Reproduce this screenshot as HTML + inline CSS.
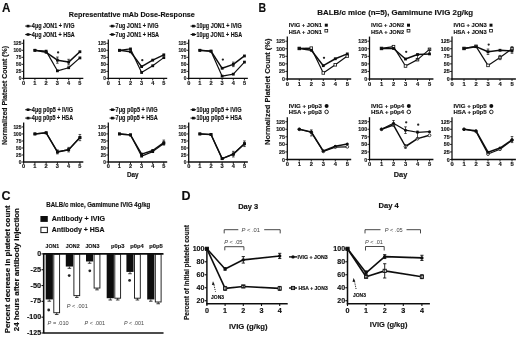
<!DOCTYPE html>
<html><head><meta charset="utf-8"><style>
html,body{margin:0;padding:0;background:#fff;}
svg{display:block;}
text{font-family:"Liberation Sans", sans-serif;}
text[font-weight=bold]{stroke:#111;stroke-width:0.15px;}
</style></head><body>
<svg width="520" height="338" viewBox="0 0 520 338" font-family='"Liberation Sans", sans-serif' fill="#111">
<defs><filter id="bl" filterUnits="userSpaceOnUse" x="0" y="0" width="520" height="338"><feGaussianBlur stdDeviation="0.3"/></filter></defs>
<rect width="520" height="338" fill="#fff"/>
<g filter="url(#bl)">
<text x="1.9" y="12" font-size="12.5" font-weight="bold" textLength="8.4" lengthAdjust="spacingAndGlyphs">A</text>
<text x="68.8" y="16.6" font-size="7.5" font-weight="bold" textLength="126" lengthAdjust="spacingAndGlyphs">Representative mAb Dose-Response</text>
<text x="7.4" y="145" font-size="7.1" font-weight="bold" textLength="99" lengthAdjust="spacingAndGlyphs" transform="rotate(-90 7.4 145)">Normalized Platelet Count (%)</text>
<line x1="23.65" y1="39.6" x2="23.65" y2="79" stroke="#111" stroke-width="1.3"/>
<line x1="23.05" y1="78.4" x2="83.3" y2="78.4" stroke="#111" stroke-width="1.3"/>
<line x1="21.65" y1="78.4" x2="23.65" y2="78.4" stroke="#111" stroke-width="0.9"/>
<text x="21.35" y="80.34" font-size="5.4" font-weight="bold" text-anchor="end" textLength="2.65" lengthAdjust="spacingAndGlyphs">0</text>
<line x1="21.65" y1="71.38" x2="23.65" y2="71.38" stroke="#111" stroke-width="0.9"/>
<text x="21.35" y="73.32" font-size="5.4" font-weight="bold" text-anchor="end" textLength="5.3" lengthAdjust="spacingAndGlyphs">25</text>
<line x1="21.65" y1="64.36" x2="23.65" y2="64.36" stroke="#111" stroke-width="0.9"/>
<text x="21.35" y="66.3" font-size="5.4" font-weight="bold" text-anchor="end" textLength="5.3" lengthAdjust="spacingAndGlyphs">50</text>
<line x1="21.65" y1="57.34" x2="23.65" y2="57.34" stroke="#111" stroke-width="0.9"/>
<text x="21.35" y="59.28" font-size="5.4" font-weight="bold" text-anchor="end" textLength="5.3" lengthAdjust="spacingAndGlyphs">75</text>
<line x1="21.65" y1="50.32" x2="23.65" y2="50.32" stroke="#111" stroke-width="0.9"/>
<text x="21.35" y="52.26" font-size="5.4" font-weight="bold" text-anchor="end" textLength="7.95" lengthAdjust="spacingAndGlyphs">100</text>
<line x1="21.65" y1="43.3" x2="23.65" y2="43.3" stroke="#111" stroke-width="0.9"/>
<text x="21.35" y="45.24" font-size="5.4" font-weight="bold" text-anchor="end" textLength="7.95" lengthAdjust="spacingAndGlyphs">125</text>
<line x1="23.65" y1="78.4" x2="23.65" y2="80.4" stroke="#111" stroke-width="0.9"/>
<text x="23.65" y="84.63" font-size="5.6" font-weight="bold" text-anchor="middle">0</text>
<line x1="34.9" y1="78.4" x2="34.9" y2="80.4" stroke="#111" stroke-width="0.9"/>
<text x="34.9" y="84.63" font-size="5.6" font-weight="bold" text-anchor="middle">1</text>
<line x1="46.15" y1="78.4" x2="46.15" y2="80.4" stroke="#111" stroke-width="0.9"/>
<text x="46.15" y="84.63" font-size="5.6" font-weight="bold" text-anchor="middle">2</text>
<line x1="57.4" y1="78.4" x2="57.4" y2="80.4" stroke="#111" stroke-width="0.9"/>
<text x="57.4" y="84.63" font-size="5.6" font-weight="bold" text-anchor="middle">3</text>
<line x1="68.65" y1="78.4" x2="68.65" y2="80.4" stroke="#111" stroke-width="0.9"/>
<text x="68.65" y="84.63" font-size="5.6" font-weight="bold" text-anchor="middle">4</text>
<line x1="79.9" y1="78.4" x2="79.9" y2="80.4" stroke="#111" stroke-width="0.9"/>
<text x="79.9" y="84.63" font-size="5.6" font-weight="bold" text-anchor="middle">5</text>
<polyline points="34.9,50.32 46.15,51.16 57.4,70.82 68.65,67.73 79.9,57.9" fill="none" stroke="#111" stroke-width="1.2" stroke-linejoin="round"/>
<rect x="33.5" y="48.92" width="2.8" height="2.8" fill="#111"/>
<rect x="44.75" y="49.76" width="2.8" height="2.8" fill="#111"/>
<rect x="56" y="69.42" width="2.8" height="2.8" fill="#111"/>
<rect x="67.25" y="66.33" width="2.8" height="2.8" fill="#111"/>
<rect x="78.5" y="56.5" width="2.8" height="2.8" fill="#111"/>
<polyline points="34.9,50.32 46.15,52.29 57.4,60.15 68.65,62.11 79.9,51.72" fill="none" stroke="#111" stroke-width="1.5" stroke-linejoin="round"/>
<rect x="33.5" y="48.92" width="2.8" height="2.8" fill="#111"/>
<rect x="44.75" y="50.89" width="2.8" height="2.8" fill="#111"/>
<rect x="56" y="58.75" width="2.8" height="2.8" fill="#111"/>
<rect x="67.25" y="60.71" width="2.8" height="2.8" fill="#111"/>
<rect x="78.5" y="50.32" width="2.8" height="2.8" fill="#111"/>
<circle cx="58.1" cy="52.4" r="1.15" fill="#222"/>
<line x1="57.4" y1="57.06" x2="57.4" y2="63.24" stroke="#111" stroke-width="0.7"/>
<line x1="56.1" y1="57.06" x2="58.7" y2="57.06" stroke="#111" stroke-width="0.7"/>
<line x1="56.1" y1="63.24" x2="58.7" y2="63.24" stroke="#111" stroke-width="0.7"/>
<line x1="68.65" y1="59.31" x2="68.65" y2="64.92" stroke="#111" stroke-width="0.7"/>
<line x1="67.35" y1="59.31" x2="69.95" y2="59.31" stroke="#111" stroke-width="0.7"/>
<line x1="67.35" y1="64.92" x2="69.95" y2="64.92" stroke="#111" stroke-width="0.7"/>
<line x1="25.25" y1="26.1" x2="31.55" y2="26.1" stroke="#111" stroke-width="1.1"/>
<rect x="26.65" y="24.8" width="2.8" height="2.6" fill="#111"/>
<text x="31.85" y="28.4" font-size="6.4" font-weight="bold" textLength="42.6" lengthAdjust="spacingAndGlyphs">4μg JON1 + IVIG</text>
<line x1="25.25" y1="34.5" x2="31.55" y2="34.5" stroke="#111" stroke-width="1.1"/>
<rect x="26.65" y="33.2" width="2.8" height="2.6" fill="#111"/>
<text x="31.85" y="36.8" font-size="6.4" font-weight="bold" textLength="42.8" lengthAdjust="spacingAndGlyphs">4μg JON1 + HSA</text>
<line x1="108.3" y1="39.6" x2="108.3" y2="79" stroke="#111" stroke-width="1.3"/>
<line x1="107.7" y1="78.4" x2="167.2" y2="78.4" stroke="#111" stroke-width="1.3"/>
<line x1="106.3" y1="78.4" x2="108.3" y2="78.4" stroke="#111" stroke-width="0.9"/>
<text x="106" y="80.34" font-size="5.4" font-weight="bold" text-anchor="end" textLength="2.65" lengthAdjust="spacingAndGlyphs">0</text>
<line x1="106.3" y1="71.38" x2="108.3" y2="71.38" stroke="#111" stroke-width="0.9"/>
<text x="106" y="73.32" font-size="5.4" font-weight="bold" text-anchor="end" textLength="5.3" lengthAdjust="spacingAndGlyphs">25</text>
<line x1="106.3" y1="64.36" x2="108.3" y2="64.36" stroke="#111" stroke-width="0.9"/>
<text x="106" y="66.3" font-size="5.4" font-weight="bold" text-anchor="end" textLength="5.3" lengthAdjust="spacingAndGlyphs">50</text>
<line x1="106.3" y1="57.34" x2="108.3" y2="57.34" stroke="#111" stroke-width="0.9"/>
<text x="106" y="59.28" font-size="5.4" font-weight="bold" text-anchor="end" textLength="5.3" lengthAdjust="spacingAndGlyphs">75</text>
<line x1="106.3" y1="50.32" x2="108.3" y2="50.32" stroke="#111" stroke-width="0.9"/>
<text x="106" y="52.26" font-size="5.4" font-weight="bold" text-anchor="end" textLength="7.95" lengthAdjust="spacingAndGlyphs">100</text>
<line x1="106.3" y1="43.3" x2="108.3" y2="43.3" stroke="#111" stroke-width="0.9"/>
<text x="106" y="45.24" font-size="5.4" font-weight="bold" text-anchor="end" textLength="7.95" lengthAdjust="spacingAndGlyphs">125</text>
<line x1="108.3" y1="78.4" x2="108.3" y2="80.4" stroke="#111" stroke-width="0.9"/>
<text x="108.3" y="84.63" font-size="5.6" font-weight="bold" text-anchor="middle">0</text>
<line x1="119.4" y1="78.4" x2="119.4" y2="80.4" stroke="#111" stroke-width="0.9"/>
<text x="119.4" y="84.63" font-size="5.6" font-weight="bold" text-anchor="middle">1</text>
<line x1="130.5" y1="78.4" x2="130.5" y2="80.4" stroke="#111" stroke-width="0.9"/>
<text x="130.5" y="84.63" font-size="5.6" font-weight="bold" text-anchor="middle">2</text>
<line x1="141.6" y1="78.4" x2="141.6" y2="80.4" stroke="#111" stroke-width="0.9"/>
<text x="141.6" y="84.63" font-size="5.6" font-weight="bold" text-anchor="middle">3</text>
<line x1="152.7" y1="78.4" x2="152.7" y2="80.4" stroke="#111" stroke-width="0.9"/>
<text x="152.7" y="84.63" font-size="5.6" font-weight="bold" text-anchor="middle">4</text>
<line x1="163.8" y1="78.4" x2="163.8" y2="80.4" stroke="#111" stroke-width="0.9"/>
<text x="163.8" y="84.63" font-size="5.6" font-weight="bold" text-anchor="middle">5</text>
<polyline points="119.4,50.32 130.5,48.92 141.6,72.5 152.7,65.76 163.8,57.62" fill="none" stroke="#111" stroke-width="1.2" stroke-linejoin="round"/>
<rect x="118" y="48.92" width="2.8" height="2.8" fill="#111"/>
<rect x="129.1" y="47.52" width="2.8" height="2.8" fill="#111"/>
<rect x="140.2" y="71.1" width="2.8" height="2.8" fill="#111"/>
<rect x="151.3" y="64.36" width="2.8" height="2.8" fill="#111"/>
<rect x="162.4" y="56.22" width="2.8" height="2.8" fill="#111"/>
<polyline points="119.4,50.32 130.5,51.72 141.6,66.61 152.7,60.15 163.8,54.81" fill="none" stroke="#111" stroke-width="1.5" stroke-linejoin="round"/>
<rect x="118" y="48.92" width="2.8" height="2.8" fill="#111"/>
<rect x="129.1" y="50.32" width="2.8" height="2.8" fill="#111"/>
<rect x="140.2" y="65.21" width="2.8" height="2.8" fill="#111"/>
<rect x="151.3" y="58.75" width="2.8" height="2.8" fill="#111"/>
<rect x="162.4" y="53.41" width="2.8" height="2.8" fill="#111"/>
<circle cx="142.3" cy="60.15" r="1.15" fill="#222"/>
<line x1="109.5" y1="26.1" x2="115.3" y2="26.1" stroke="#111" stroke-width="1.1"/>
<rect x="110.9" y="24.8" width="2.8" height="2.6" fill="#111"/>
<text x="115.6" y="28.4" font-size="6.4" font-weight="bold" textLength="42.8" lengthAdjust="spacingAndGlyphs">7ug JON1 + IVIG</text>
<line x1="109.5" y1="34.5" x2="115.3" y2="34.5" stroke="#111" stroke-width="1.1"/>
<rect x="110.9" y="33.2" width="2.8" height="2.6" fill="#111"/>
<text x="115.6" y="36.8" font-size="6.4" font-weight="bold" textLength="43.4" lengthAdjust="spacingAndGlyphs">7ug JON1 + HSA</text>
<line x1="188.7" y1="39.6" x2="188.7" y2="79" stroke="#111" stroke-width="1.3"/>
<line x1="188.1" y1="78.4" x2="247.85" y2="78.4" stroke="#111" stroke-width="1.3"/>
<line x1="186.7" y1="78.4" x2="188.7" y2="78.4" stroke="#111" stroke-width="0.9"/>
<text x="186.4" y="80.34" font-size="5.4" font-weight="bold" text-anchor="end" textLength="2.65" lengthAdjust="spacingAndGlyphs">0</text>
<line x1="186.7" y1="71.38" x2="188.7" y2="71.38" stroke="#111" stroke-width="0.9"/>
<text x="186.4" y="73.32" font-size="5.4" font-weight="bold" text-anchor="end" textLength="5.3" lengthAdjust="spacingAndGlyphs">25</text>
<line x1="186.7" y1="64.36" x2="188.7" y2="64.36" stroke="#111" stroke-width="0.9"/>
<text x="186.4" y="66.3" font-size="5.4" font-weight="bold" text-anchor="end" textLength="5.3" lengthAdjust="spacingAndGlyphs">50</text>
<line x1="186.7" y1="57.34" x2="188.7" y2="57.34" stroke="#111" stroke-width="0.9"/>
<text x="186.4" y="59.28" font-size="5.4" font-weight="bold" text-anchor="end" textLength="5.3" lengthAdjust="spacingAndGlyphs">75</text>
<line x1="186.7" y1="50.32" x2="188.7" y2="50.32" stroke="#111" stroke-width="0.9"/>
<text x="186.4" y="52.26" font-size="5.4" font-weight="bold" text-anchor="end" textLength="7.95" lengthAdjust="spacingAndGlyphs">100</text>
<line x1="186.7" y1="43.3" x2="188.7" y2="43.3" stroke="#111" stroke-width="0.9"/>
<text x="186.4" y="45.24" font-size="5.4" font-weight="bold" text-anchor="end" textLength="7.95" lengthAdjust="spacingAndGlyphs">125</text>
<line x1="188.7" y1="78.4" x2="188.7" y2="80.4" stroke="#111" stroke-width="0.9"/>
<text x="188.7" y="84.63" font-size="5.6" font-weight="bold" text-anchor="middle">0</text>
<line x1="199.85" y1="78.4" x2="199.85" y2="80.4" stroke="#111" stroke-width="0.9"/>
<text x="199.85" y="84.63" font-size="5.6" font-weight="bold" text-anchor="middle">1</text>
<line x1="211" y1="78.4" x2="211" y2="80.4" stroke="#111" stroke-width="0.9"/>
<text x="211" y="84.63" font-size="5.6" font-weight="bold" text-anchor="middle">2</text>
<line x1="222.15" y1="78.4" x2="222.15" y2="80.4" stroke="#111" stroke-width="0.9"/>
<text x="222.15" y="84.63" font-size="5.6" font-weight="bold" text-anchor="middle">3</text>
<line x1="233.3" y1="78.4" x2="233.3" y2="80.4" stroke="#111" stroke-width="0.9"/>
<text x="233.3" y="84.63" font-size="5.6" font-weight="bold" text-anchor="middle">4</text>
<line x1="244.45" y1="78.4" x2="244.45" y2="80.4" stroke="#111" stroke-width="0.9"/>
<text x="244.45" y="84.63" font-size="5.6" font-weight="bold" text-anchor="middle">5</text>
<polyline points="199.85,50.32 211,51.16 222.15,76.15 233.3,74.19 244.45,62.11" fill="none" stroke="#111" stroke-width="1.2" stroke-linejoin="round"/>
<rect x="198.45" y="48.92" width="2.8" height="2.8" fill="#111"/>
<rect x="209.6" y="49.76" width="2.8" height="2.8" fill="#111"/>
<rect x="220.75" y="74.75" width="2.8" height="2.8" fill="#111"/>
<rect x="231.9" y="72.79" width="2.8" height="2.8" fill="#111"/>
<rect x="243.05" y="60.71" width="2.8" height="2.8" fill="#111"/>
<polyline points="199.85,50.32 211,51.16 222.15,68.29 233.3,64.36 244.45,55.94" fill="none" stroke="#111" stroke-width="1.5" stroke-linejoin="round"/>
<rect x="198.45" y="48.92" width="2.8" height="2.8" fill="#111"/>
<rect x="209.6" y="49.76" width="2.8" height="2.8" fill="#111"/>
<rect x="220.75" y="66.89" width="2.8" height="2.8" fill="#111"/>
<rect x="231.9" y="62.96" width="2.8" height="2.8" fill="#111"/>
<rect x="243.05" y="54.54" width="2.8" height="2.8" fill="#111"/>
<circle cx="222.85" cy="59.59" r="1.15" fill="#222"/>
<line x1="233.3" y1="62.11" x2="233.3" y2="66.61" stroke="#111" stroke-width="0.7"/>
<line x1="232" y1="62.11" x2="234.6" y2="62.11" stroke="#111" stroke-width="0.7"/>
<line x1="232" y1="66.61" x2="234.6" y2="66.61" stroke="#111" stroke-width="0.7"/>
<line x1="190.6" y1="26.1" x2="196.2" y2="26.1" stroke="#111" stroke-width="1.1"/>
<rect x="192" y="24.8" width="2.8" height="2.6" fill="#111"/>
<text x="196.5" y="28.4" font-size="6.4" font-weight="bold" textLength="45.3" lengthAdjust="spacingAndGlyphs">10μg JON1 + IVIG</text>
<line x1="190.6" y1="34.5" x2="196.2" y2="34.5" stroke="#111" stroke-width="1.1"/>
<rect x="192" y="33.2" width="2.8" height="2.6" fill="#111"/>
<text x="196.5" y="36.8" font-size="6.4" font-weight="bold" textLength="45.6" lengthAdjust="spacingAndGlyphs">10μg JON1 + HSA</text>
<line x1="23.65" y1="122.4" x2="23.65" y2="162.6" stroke="#111" stroke-width="1.3"/>
<line x1="23.05" y1="162" x2="83.3" y2="162" stroke="#111" stroke-width="1.3"/>
<line x1="21.65" y1="162" x2="23.65" y2="162" stroke="#111" stroke-width="0.9"/>
<text x="21.35" y="163.94" font-size="5.4" font-weight="bold" text-anchor="end" textLength="2.65" lengthAdjust="spacingAndGlyphs">0</text>
<line x1="21.65" y1="154.98" x2="23.65" y2="154.98" stroke="#111" stroke-width="0.9"/>
<text x="21.35" y="156.92" font-size="5.4" font-weight="bold" text-anchor="end" textLength="5.3" lengthAdjust="spacingAndGlyphs">25</text>
<line x1="21.65" y1="147.96" x2="23.65" y2="147.96" stroke="#111" stroke-width="0.9"/>
<text x="21.35" y="149.9" font-size="5.4" font-weight="bold" text-anchor="end" textLength="5.3" lengthAdjust="spacingAndGlyphs">50</text>
<line x1="21.65" y1="140.94" x2="23.65" y2="140.94" stroke="#111" stroke-width="0.9"/>
<text x="21.35" y="142.88" font-size="5.4" font-weight="bold" text-anchor="end" textLength="5.3" lengthAdjust="spacingAndGlyphs">75</text>
<line x1="21.65" y1="133.92" x2="23.65" y2="133.92" stroke="#111" stroke-width="0.9"/>
<text x="21.35" y="135.86" font-size="5.4" font-weight="bold" text-anchor="end" textLength="7.95" lengthAdjust="spacingAndGlyphs">100</text>
<line x1="21.65" y1="126.9" x2="23.65" y2="126.9" stroke="#111" stroke-width="0.9"/>
<text x="21.35" y="128.84" font-size="5.4" font-weight="bold" text-anchor="end" textLength="7.95" lengthAdjust="spacingAndGlyphs">125</text>
<line x1="23.65" y1="162" x2="23.65" y2="164" stroke="#111" stroke-width="0.9"/>
<text x="23.65" y="168.23" font-size="5.6" font-weight="bold" text-anchor="middle">0</text>
<line x1="34.9" y1="162" x2="34.9" y2="164" stroke="#111" stroke-width="0.9"/>
<text x="34.9" y="168.23" font-size="5.6" font-weight="bold" text-anchor="middle">1</text>
<line x1="46.15" y1="162" x2="46.15" y2="164" stroke="#111" stroke-width="0.9"/>
<text x="46.15" y="168.23" font-size="5.6" font-weight="bold" text-anchor="middle">2</text>
<line x1="57.4" y1="162" x2="57.4" y2="164" stroke="#111" stroke-width="0.9"/>
<text x="57.4" y="168.23" font-size="5.6" font-weight="bold" text-anchor="middle">3</text>
<line x1="68.65" y1="162" x2="68.65" y2="164" stroke="#111" stroke-width="0.9"/>
<text x="68.65" y="168.23" font-size="5.6" font-weight="bold" text-anchor="middle">4</text>
<line x1="79.9" y1="162" x2="79.9" y2="164" stroke="#111" stroke-width="0.9"/>
<text x="79.9" y="168.23" font-size="5.6" font-weight="bold" text-anchor="middle">5</text>
<polyline points="34.9,133.92 46.15,132.8 57.4,151.89 68.65,149.64 79.9,137.57" fill="none" stroke="#111" stroke-width="1.2" stroke-linejoin="round"/>
<rect x="33.5" y="132.52" width="2.8" height="2.8" fill="#111"/>
<rect x="44.75" y="131.4" width="2.8" height="2.8" fill="#111"/>
<rect x="56" y="150.49" width="2.8" height="2.8" fill="#111"/>
<rect x="67.25" y="148.24" width="2.8" height="2.8" fill="#111"/>
<rect x="78.5" y="136.17" width="2.8" height="2.8" fill="#111"/>
<polyline points="34.9,133.92 46.15,132.8 57.4,151.89 68.65,149.64 79.9,137.57" fill="none" stroke="#111" stroke-width="1.5" stroke-linejoin="round"/>
<rect x="33.5" y="132.52" width="2.8" height="2.8" fill="#111"/>
<rect x="44.75" y="131.4" width="2.8" height="2.8" fill="#111"/>
<rect x="56" y="150.49" width="2.8" height="2.8" fill="#111"/>
<rect x="67.25" y="148.24" width="2.8" height="2.8" fill="#111"/>
<rect x="78.5" y="136.17" width="2.8" height="2.8" fill="#111"/>
<line x1="57.4" y1="149.93" x2="57.4" y2="153.86" stroke="#111" stroke-width="0.7"/>
<line x1="56.1" y1="149.93" x2="58.7" y2="149.93" stroke="#111" stroke-width="0.7"/>
<line x1="56.1" y1="153.86" x2="58.7" y2="153.86" stroke="#111" stroke-width="0.7"/>
<line x1="68.65" y1="147.4" x2="68.65" y2="151.89" stroke="#111" stroke-width="0.7"/>
<line x1="67.35" y1="147.4" x2="69.95" y2="147.4" stroke="#111" stroke-width="0.7"/>
<line x1="67.35" y1="151.89" x2="69.95" y2="151.89" stroke="#111" stroke-width="0.7"/>
<line x1="79.9" y1="134.48" x2="79.9" y2="140.66" stroke="#111" stroke-width="0.7"/>
<line x1="78.6" y1="134.48" x2="81.2" y2="134.48" stroke="#111" stroke-width="0.7"/>
<line x1="78.6" y1="140.66" x2="81.2" y2="140.66" stroke="#111" stroke-width="0.7"/>
<line x1="25.25" y1="109.7" x2="31.55" y2="109.7" stroke="#111" stroke-width="1.1"/>
<rect x="26.65" y="108.4" width="2.8" height="2.6" fill="#111"/>
<text x="31.85" y="112" font-size="6.4" font-weight="bold" textLength="41.2" lengthAdjust="spacingAndGlyphs">4μg p0p5 + IVIG</text>
<line x1="25.25" y1="118.1" x2="31.55" y2="118.1" stroke="#111" stroke-width="1.1"/>
<rect x="26.65" y="116.8" width="2.8" height="2.6" fill="#111"/>
<text x="31.85" y="120.4" font-size="6.4" font-weight="bold" textLength="41.2" lengthAdjust="spacingAndGlyphs">4μg p0p5 + HSA</text>
<line x1="108.3" y1="122.4" x2="108.3" y2="162.6" stroke="#111" stroke-width="1.3"/>
<line x1="107.7" y1="162" x2="167.2" y2="162" stroke="#111" stroke-width="1.3"/>
<line x1="106.3" y1="162" x2="108.3" y2="162" stroke="#111" stroke-width="0.9"/>
<text x="106" y="163.94" font-size="5.4" font-weight="bold" text-anchor="end" textLength="2.65" lengthAdjust="spacingAndGlyphs">0</text>
<line x1="106.3" y1="154.98" x2="108.3" y2="154.98" stroke="#111" stroke-width="0.9"/>
<text x="106" y="156.92" font-size="5.4" font-weight="bold" text-anchor="end" textLength="5.3" lengthAdjust="spacingAndGlyphs">25</text>
<line x1="106.3" y1="147.96" x2="108.3" y2="147.96" stroke="#111" stroke-width="0.9"/>
<text x="106" y="149.9" font-size="5.4" font-weight="bold" text-anchor="end" textLength="5.3" lengthAdjust="spacingAndGlyphs">50</text>
<line x1="106.3" y1="140.94" x2="108.3" y2="140.94" stroke="#111" stroke-width="0.9"/>
<text x="106" y="142.88" font-size="5.4" font-weight="bold" text-anchor="end" textLength="5.3" lengthAdjust="spacingAndGlyphs">75</text>
<line x1="106.3" y1="133.92" x2="108.3" y2="133.92" stroke="#111" stroke-width="0.9"/>
<text x="106" y="135.86" font-size="5.4" font-weight="bold" text-anchor="end" textLength="7.95" lengthAdjust="spacingAndGlyphs">100</text>
<line x1="106.3" y1="126.9" x2="108.3" y2="126.9" stroke="#111" stroke-width="0.9"/>
<text x="106" y="128.84" font-size="5.4" font-weight="bold" text-anchor="end" textLength="7.95" lengthAdjust="spacingAndGlyphs">125</text>
<line x1="108.3" y1="162" x2="108.3" y2="164" stroke="#111" stroke-width="0.9"/>
<text x="108.3" y="168.23" font-size="5.6" font-weight="bold" text-anchor="middle">0</text>
<line x1="119.4" y1="162" x2="119.4" y2="164" stroke="#111" stroke-width="0.9"/>
<text x="119.4" y="168.23" font-size="5.6" font-weight="bold" text-anchor="middle">1</text>
<line x1="130.5" y1="162" x2="130.5" y2="164" stroke="#111" stroke-width="0.9"/>
<text x="130.5" y="168.23" font-size="5.6" font-weight="bold" text-anchor="middle">2</text>
<line x1="141.6" y1="162" x2="141.6" y2="164" stroke="#111" stroke-width="0.9"/>
<text x="141.6" y="168.23" font-size="5.6" font-weight="bold" text-anchor="middle">3</text>
<line x1="152.7" y1="162" x2="152.7" y2="164" stroke="#111" stroke-width="0.9"/>
<text x="152.7" y="168.23" font-size="5.6" font-weight="bold" text-anchor="middle">4</text>
<line x1="163.8" y1="162" x2="163.8" y2="164" stroke="#111" stroke-width="0.9"/>
<text x="163.8" y="168.23" font-size="5.6" font-weight="bold" text-anchor="middle">5</text>
<polyline points="119.4,133.92 130.5,134.76 141.6,156.1 152.7,151.61 163.8,143.47" fill="none" stroke="#111" stroke-width="1.2" stroke-linejoin="round"/>
<rect x="118" y="132.52" width="2.8" height="2.8" fill="#111"/>
<rect x="129.1" y="133.36" width="2.8" height="2.8" fill="#111"/>
<rect x="140.2" y="154.7" width="2.8" height="2.8" fill="#111"/>
<rect x="151.3" y="150.21" width="2.8" height="2.8" fill="#111"/>
<rect x="162.4" y="142.07" width="2.8" height="2.8" fill="#111"/>
<polyline points="119.4,133.92 130.5,135.04 141.6,154.14 152.7,150.49 163.8,142.62" fill="none" stroke="#111" stroke-width="1.5" stroke-linejoin="round"/>
<rect x="118" y="132.52" width="2.8" height="2.8" fill="#111"/>
<rect x="129.1" y="133.64" width="2.8" height="2.8" fill="#111"/>
<rect x="140.2" y="152.74" width="2.8" height="2.8" fill="#111"/>
<rect x="151.3" y="149.09" width="2.8" height="2.8" fill="#111"/>
<rect x="162.4" y="141.22" width="2.8" height="2.8" fill="#111"/>
<line x1="163.8" y1="140.1" x2="163.8" y2="145.15" stroke="#111" stroke-width="0.7"/>
<line x1="162.5" y1="140.1" x2="165.1" y2="140.1" stroke="#111" stroke-width="0.7"/>
<line x1="162.5" y1="145.15" x2="165.1" y2="145.15" stroke="#111" stroke-width="0.7"/>
<line x1="109.6" y1="109.7" x2="115.3" y2="109.7" stroke="#111" stroke-width="1.1"/>
<rect x="111" y="108.4" width="2.8" height="2.6" fill="#111"/>
<text x="115.6" y="112" font-size="6.4" font-weight="bold" textLength="41.9" lengthAdjust="spacingAndGlyphs">7μg p0p5 + IVIG</text>
<line x1="109.6" y1="118.1" x2="115.3" y2="118.1" stroke="#111" stroke-width="1.1"/>
<rect x="111" y="116.8" width="2.8" height="2.6" fill="#111"/>
<text x="115.6" y="120.4" font-size="6.4" font-weight="bold" textLength="42.2" lengthAdjust="spacingAndGlyphs">7μg p0p5 + HSA</text>
<line x1="188.7" y1="122.4" x2="188.7" y2="162.6" stroke="#111" stroke-width="1.3"/>
<line x1="188.1" y1="162" x2="247.85" y2="162" stroke="#111" stroke-width="1.3"/>
<line x1="186.7" y1="162" x2="188.7" y2="162" stroke="#111" stroke-width="0.9"/>
<text x="186.4" y="163.94" font-size="5.4" font-weight="bold" text-anchor="end" textLength="2.65" lengthAdjust="spacingAndGlyphs">0</text>
<line x1="186.7" y1="154.98" x2="188.7" y2="154.98" stroke="#111" stroke-width="0.9"/>
<text x="186.4" y="156.92" font-size="5.4" font-weight="bold" text-anchor="end" textLength="5.3" lengthAdjust="spacingAndGlyphs">25</text>
<line x1="186.7" y1="147.96" x2="188.7" y2="147.96" stroke="#111" stroke-width="0.9"/>
<text x="186.4" y="149.9" font-size="5.4" font-weight="bold" text-anchor="end" textLength="5.3" lengthAdjust="spacingAndGlyphs">50</text>
<line x1="186.7" y1="140.94" x2="188.7" y2="140.94" stroke="#111" stroke-width="0.9"/>
<text x="186.4" y="142.88" font-size="5.4" font-weight="bold" text-anchor="end" textLength="5.3" lengthAdjust="spacingAndGlyphs">75</text>
<line x1="186.7" y1="133.92" x2="188.7" y2="133.92" stroke="#111" stroke-width="0.9"/>
<text x="186.4" y="135.86" font-size="5.4" font-weight="bold" text-anchor="end" textLength="7.95" lengthAdjust="spacingAndGlyphs">100</text>
<line x1="186.7" y1="126.9" x2="188.7" y2="126.9" stroke="#111" stroke-width="0.9"/>
<text x="186.4" y="128.84" font-size="5.4" font-weight="bold" text-anchor="end" textLength="7.95" lengthAdjust="spacingAndGlyphs">125</text>
<line x1="188.7" y1="162" x2="188.7" y2="164" stroke="#111" stroke-width="0.9"/>
<text x="188.7" y="168.23" font-size="5.6" font-weight="bold" text-anchor="middle">0</text>
<line x1="199.85" y1="162" x2="199.85" y2="164" stroke="#111" stroke-width="0.9"/>
<text x="199.85" y="168.23" font-size="5.6" font-weight="bold" text-anchor="middle">1</text>
<line x1="211" y1="162" x2="211" y2="164" stroke="#111" stroke-width="0.9"/>
<text x="211" y="168.23" font-size="5.6" font-weight="bold" text-anchor="middle">2</text>
<line x1="222.15" y1="162" x2="222.15" y2="164" stroke="#111" stroke-width="0.9"/>
<text x="222.15" y="168.23" font-size="5.6" font-weight="bold" text-anchor="middle">3</text>
<line x1="233.3" y1="162" x2="233.3" y2="164" stroke="#111" stroke-width="0.9"/>
<text x="233.3" y="168.23" font-size="5.6" font-weight="bold" text-anchor="middle">4</text>
<line x1="244.45" y1="162" x2="244.45" y2="164" stroke="#111" stroke-width="0.9"/>
<text x="244.45" y="168.23" font-size="5.6" font-weight="bold" text-anchor="middle">5</text>
<polyline points="199.85,133.92 211,134.48 222.15,158.63 233.3,154.14 244.45,143.75" fill="none" stroke="#111" stroke-width="1.2" stroke-linejoin="round"/>
<rect x="198.45" y="132.52" width="2.8" height="2.8" fill="#111"/>
<rect x="209.6" y="133.08" width="2.8" height="2.8" fill="#111"/>
<rect x="220.75" y="157.23" width="2.8" height="2.8" fill="#111"/>
<rect x="231.9" y="152.74" width="2.8" height="2.8" fill="#111"/>
<rect x="243.05" y="142.35" width="2.8" height="2.8" fill="#111"/>
<polyline points="199.85,133.92 211,134.48 222.15,158.63 233.3,154.14 244.45,143.75" fill="none" stroke="#111" stroke-width="1.5" stroke-linejoin="round"/>
<rect x="198.45" y="132.52" width="2.8" height="2.8" fill="#111"/>
<rect x="209.6" y="133.08" width="2.8" height="2.8" fill="#111"/>
<rect x="220.75" y="157.23" width="2.8" height="2.8" fill="#111"/>
<rect x="231.9" y="152.74" width="2.8" height="2.8" fill="#111"/>
<rect x="243.05" y="142.35" width="2.8" height="2.8" fill="#111"/>
<line x1="233.3" y1="151.33" x2="233.3" y2="156.95" stroke="#111" stroke-width="0.7"/>
<line x1="232" y1="151.33" x2="234.6" y2="151.33" stroke="#111" stroke-width="0.7"/>
<line x1="232" y1="156.95" x2="234.6" y2="156.95" stroke="#111" stroke-width="0.7"/>
<line x1="244.45" y1="140.94" x2="244.45" y2="146.56" stroke="#111" stroke-width="0.7"/>
<line x1="243.15" y1="140.94" x2="245.75" y2="140.94" stroke="#111" stroke-width="0.7"/>
<line x1="243.15" y1="146.56" x2="245.75" y2="146.56" stroke="#111" stroke-width="0.7"/>
<line x1="190.6" y1="109.7" x2="196.2" y2="109.7" stroke="#111" stroke-width="1.1"/>
<rect x="192" y="108.4" width="2.8" height="2.6" fill="#111"/>
<text x="196.5" y="112" font-size="6.4" font-weight="bold" textLength="45" lengthAdjust="spacingAndGlyphs">10μg p0p5 + IVIG</text>
<line x1="190.6" y1="118.1" x2="196.2" y2="118.1" stroke="#111" stroke-width="1.1"/>
<rect x="192" y="116.8" width="2.8" height="2.6" fill="#111"/>
<text x="196.5" y="120.4" font-size="6.4" font-weight="bold" textLength="45.6" lengthAdjust="spacingAndGlyphs">10μg p0p5 + HSA</text>
<text x="258.4" y="12.3" font-size="12.5" font-weight="bold" textLength="7.6" lengthAdjust="spacingAndGlyphs">B</text>
<text x="317.3" y="15.2" font-size="7.6" font-weight="bold" textLength="155.8" lengthAdjust="spacingAndGlyphs">BALB/c mice (n=5), Gamimune IVIG 2g/kg</text>
<text x="269.6" y="144.9" font-size="7.5" font-weight="bold" textLength="106.4" lengthAdjust="spacingAndGlyphs" transform="rotate(-90 269.6 144.9)">Normalized Platelet Count (%)</text>
<text x="400.5" y="176.8" font-size="7.4" font-weight="bold" text-anchor="middle" textLength="13.5" lengthAdjust="spacingAndGlyphs">Day</text>
<text x="132.7" y="176.5" font-size="6.4" font-weight="bold" text-anchor="middle" textLength="11.6" lengthAdjust="spacingAndGlyphs">Day</text>
<line x1="287.3" y1="36.6" x2="287.3" y2="79.6" stroke="#111" stroke-width="1.3"/>
<line x1="286.7" y1="79" x2="351.2" y2="79" stroke="#111" stroke-width="1.3"/>
<line x1="285.3" y1="79" x2="287.3" y2="79" stroke="#111" stroke-width="0.9"/>
<text x="285" y="81.02" font-size="5.6" font-weight="bold" text-anchor="end" textLength="2.95" lengthAdjust="spacingAndGlyphs">0</text>
<line x1="285.3" y1="71.44" x2="287.3" y2="71.44" stroke="#111" stroke-width="0.9"/>
<text x="285" y="73.46" font-size="5.6" font-weight="bold" text-anchor="end" textLength="5.9" lengthAdjust="spacingAndGlyphs">25</text>
<line x1="285.3" y1="63.88" x2="287.3" y2="63.88" stroke="#111" stroke-width="0.9"/>
<text x="285" y="65.9" font-size="5.6" font-weight="bold" text-anchor="end" textLength="5.9" lengthAdjust="spacingAndGlyphs">50</text>
<line x1="285.3" y1="56.32" x2="287.3" y2="56.32" stroke="#111" stroke-width="0.9"/>
<text x="285" y="58.34" font-size="5.6" font-weight="bold" text-anchor="end" textLength="5.9" lengthAdjust="spacingAndGlyphs">75</text>
<line x1="285.3" y1="48.76" x2="287.3" y2="48.76" stroke="#111" stroke-width="0.9"/>
<text x="285" y="50.78" font-size="5.6" font-weight="bold" text-anchor="end" textLength="8.85" lengthAdjust="spacingAndGlyphs">100</text>
<line x1="285.3" y1="41.2" x2="287.3" y2="41.2" stroke="#111" stroke-width="0.9"/>
<text x="285" y="43.22" font-size="5.6" font-weight="bold" text-anchor="end" textLength="8.85" lengthAdjust="spacingAndGlyphs">125</text>
<line x1="287.3" y1="79" x2="287.3" y2="81" stroke="#111" stroke-width="0.9"/>
<text x="287.3" y="85.98" font-size="5.8" font-weight="bold" text-anchor="middle">0</text>
<line x1="299.3" y1="79" x2="299.3" y2="81" stroke="#111" stroke-width="0.9"/>
<text x="299.3" y="85.98" font-size="5.8" font-weight="bold" text-anchor="middle">1</text>
<line x1="311.3" y1="79" x2="311.3" y2="81" stroke="#111" stroke-width="0.9"/>
<text x="311.3" y="85.98" font-size="5.8" font-weight="bold" text-anchor="middle">2</text>
<line x1="323.3" y1="79" x2="323.3" y2="81" stroke="#111" stroke-width="0.9"/>
<text x="323.3" y="85.98" font-size="5.8" font-weight="bold" text-anchor="middle">3</text>
<line x1="335.3" y1="79" x2="335.3" y2="81" stroke="#111" stroke-width="0.9"/>
<text x="335.3" y="85.98" font-size="5.8" font-weight="bold" text-anchor="middle">4</text>
<line x1="347.3" y1="79" x2="347.3" y2="81" stroke="#111" stroke-width="0.9"/>
<text x="347.3" y="85.98" font-size="5.8" font-weight="bold" text-anchor="middle">5</text>
<polyline points="299.3,48.46 311.3,48.16 323.3,72.95 335.3,64.79 347.3,56.02" fill="none" stroke="#111" stroke-width="1.2" stroke-linejoin="round"/>
<rect x="298" y="47.16" width="2.6" height="2.6" fill="#fff" stroke="#111" stroke-width="0.8"/>
<rect x="310" y="46.86" width="2.6" height="2.6" fill="#fff" stroke="#111" stroke-width="0.8"/>
<rect x="322" y="71.65" width="2.6" height="2.6" fill="#fff" stroke="#111" stroke-width="0.8"/>
<rect x="334" y="63.49" width="2.6" height="2.6" fill="#fff" stroke="#111" stroke-width="0.8"/>
<rect x="346" y="54.72" width="2.6" height="2.6" fill="#fff" stroke="#111" stroke-width="0.8"/>
<polyline points="299.3,48.46 311.3,50.27 323.3,65.69 335.3,58.74 347.3,53.9" fill="none" stroke="#111" stroke-width="1.5" stroke-linejoin="round"/>
<rect x="297.9" y="47.06" width="2.8" height="2.8" fill="#111"/>
<rect x="309.9" y="48.87" width="2.8" height="2.8" fill="#111"/>
<rect x="321.9" y="64.29" width="2.8" height="2.8" fill="#111"/>
<rect x="333.9" y="57.34" width="2.8" height="2.8" fill="#111"/>
<rect x="345.9" y="52.5" width="2.8" height="2.8" fill="#111"/>
<circle cx="324" cy="57.83" r="1.15" fill="#222"/>
<text x="288.7" y="27.36" font-size="6" font-weight="bold" textLength="33.2" lengthAdjust="spacingAndGlyphs">IVIG + JON1</text>
<text x="288.7" y="33.96" font-size="6" font-weight="bold" textLength="33.2" lengthAdjust="spacingAndGlyphs">HSA + JON1</text>
<rect x="324.8" y="23.7" width="3" height="3" fill="#111"/>
<rect x="324.9" y="29.4" width="2.8" height="2.6" fill="#fff" stroke="#111" stroke-width="0.8"/>
<line x1="369.5" y1="36.6" x2="369.5" y2="79.6" stroke="#111" stroke-width="1.3"/>
<line x1="368.9" y1="79" x2="433.4" y2="79" stroke="#111" stroke-width="1.3"/>
<line x1="367.5" y1="79" x2="369.5" y2="79" stroke="#111" stroke-width="0.9"/>
<text x="367.2" y="81.02" font-size="5.6" font-weight="bold" text-anchor="end" textLength="2.95" lengthAdjust="spacingAndGlyphs">0</text>
<line x1="367.5" y1="71.44" x2="369.5" y2="71.44" stroke="#111" stroke-width="0.9"/>
<text x="367.2" y="73.46" font-size="5.6" font-weight="bold" text-anchor="end" textLength="5.9" lengthAdjust="spacingAndGlyphs">25</text>
<line x1="367.5" y1="63.88" x2="369.5" y2="63.88" stroke="#111" stroke-width="0.9"/>
<text x="367.2" y="65.9" font-size="5.6" font-weight="bold" text-anchor="end" textLength="5.9" lengthAdjust="spacingAndGlyphs">50</text>
<line x1="367.5" y1="56.32" x2="369.5" y2="56.32" stroke="#111" stroke-width="0.9"/>
<text x="367.2" y="58.34" font-size="5.6" font-weight="bold" text-anchor="end" textLength="5.9" lengthAdjust="spacingAndGlyphs">75</text>
<line x1="367.5" y1="48.76" x2="369.5" y2="48.76" stroke="#111" stroke-width="0.9"/>
<text x="367.2" y="50.78" font-size="5.6" font-weight="bold" text-anchor="end" textLength="8.85" lengthAdjust="spacingAndGlyphs">100</text>
<line x1="367.5" y1="41.2" x2="369.5" y2="41.2" stroke="#111" stroke-width="0.9"/>
<text x="367.2" y="43.22" font-size="5.6" font-weight="bold" text-anchor="end" textLength="8.85" lengthAdjust="spacingAndGlyphs">125</text>
<line x1="369.5" y1="79" x2="369.5" y2="81" stroke="#111" stroke-width="0.9"/>
<text x="369.5" y="85.98" font-size="5.8" font-weight="bold" text-anchor="middle">0</text>
<line x1="381.5" y1="79" x2="381.5" y2="81" stroke="#111" stroke-width="0.9"/>
<text x="381.5" y="85.98" font-size="5.8" font-weight="bold" text-anchor="middle">1</text>
<line x1="393.5" y1="79" x2="393.5" y2="81" stroke="#111" stroke-width="0.9"/>
<text x="393.5" y="85.98" font-size="5.8" font-weight="bold" text-anchor="middle">2</text>
<line x1="405.5" y1="79" x2="405.5" y2="81" stroke="#111" stroke-width="0.9"/>
<text x="405.5" y="85.98" font-size="5.8" font-weight="bold" text-anchor="middle">3</text>
<line x1="417.5" y1="79" x2="417.5" y2="81" stroke="#111" stroke-width="0.9"/>
<text x="417.5" y="85.98" font-size="5.8" font-weight="bold" text-anchor="middle">4</text>
<line x1="429.5" y1="79" x2="429.5" y2="81" stroke="#111" stroke-width="0.9"/>
<text x="429.5" y="85.98" font-size="5.8" font-weight="bold" text-anchor="middle">5</text>
<polyline points="381.5,48.46 393.5,46.64 405.5,66 417.5,59.65 429.5,49.36" fill="none" stroke="#111" stroke-width="1.2" stroke-linejoin="round"/>
<rect x="380.2" y="47.16" width="2.6" height="2.6" fill="#fff" stroke="#111" stroke-width="0.8"/>
<rect x="392.2" y="45.34" width="2.6" height="2.6" fill="#fff" stroke="#111" stroke-width="0.8"/>
<rect x="404.2" y="64.7" width="2.6" height="2.6" fill="#fff" stroke="#111" stroke-width="0.8"/>
<rect x="416.2" y="58.35" width="2.6" height="2.6" fill="#fff" stroke="#111" stroke-width="0.8"/>
<rect x="428.2" y="48.06" width="2.6" height="2.6" fill="#fff" stroke="#111" stroke-width="0.8"/>
<polyline points="381.5,48.46 393.5,48.46 405.5,59.04 417.5,54.51 429.5,53.9" fill="none" stroke="#111" stroke-width="1.5" stroke-linejoin="round"/>
<rect x="380.1" y="47.06" width="2.8" height="2.8" fill="#111"/>
<rect x="392.1" y="47.06" width="2.8" height="2.8" fill="#111"/>
<rect x="404.1" y="57.64" width="2.8" height="2.8" fill="#111"/>
<rect x="416.1" y="53.11" width="2.8" height="2.8" fill="#111"/>
<rect x="428.1" y="52.5" width="2.8" height="2.8" fill="#111"/>
<circle cx="406.2" cy="51.78" r="1.15" fill="#222"/>
<line x1="417.5" y1="54.81" x2="417.5" y2="59.65" stroke="#111" stroke-width="0.7"/>
<line x1="416.2" y1="54.81" x2="418.8" y2="54.81" stroke="#111" stroke-width="0.7"/>
<line x1="416.2" y1="59.65" x2="418.8" y2="59.65" stroke="#111" stroke-width="0.7"/>
<line x1="429.5" y1="49.06" x2="429.5" y2="54.51" stroke="#111" stroke-width="0.7"/>
<line x1="428.2" y1="49.06" x2="430.8" y2="49.06" stroke="#111" stroke-width="0.7"/>
<line x1="428.2" y1="54.51" x2="430.8" y2="54.51" stroke="#111" stroke-width="0.7"/>
<text x="370.9" y="27.36" font-size="6" font-weight="bold" textLength="33.2" lengthAdjust="spacingAndGlyphs">IVIG + JON2</text>
<text x="370.9" y="33.96" font-size="6" font-weight="bold" textLength="33.2" lengthAdjust="spacingAndGlyphs">HSA + JON2</text>
<rect x="407" y="23.7" width="3" height="3" fill="#111"/>
<rect x="407.1" y="29.4" width="2.8" height="2.6" fill="#fff" stroke="#111" stroke-width="0.8"/>
<line x1="452" y1="36.6" x2="452" y2="79.6" stroke="#111" stroke-width="1.3"/>
<line x1="451.4" y1="79" x2="515.9" y2="79" stroke="#111" stroke-width="1.3"/>
<line x1="450" y1="79" x2="452" y2="79" stroke="#111" stroke-width="0.9"/>
<text x="449.7" y="81.02" font-size="5.6" font-weight="bold" text-anchor="end" textLength="2.95" lengthAdjust="spacingAndGlyphs">0</text>
<line x1="450" y1="71.44" x2="452" y2="71.44" stroke="#111" stroke-width="0.9"/>
<text x="449.7" y="73.46" font-size="5.6" font-weight="bold" text-anchor="end" textLength="5.9" lengthAdjust="spacingAndGlyphs">25</text>
<line x1="450" y1="63.88" x2="452" y2="63.88" stroke="#111" stroke-width="0.9"/>
<text x="449.7" y="65.9" font-size="5.6" font-weight="bold" text-anchor="end" textLength="5.9" lengthAdjust="spacingAndGlyphs">50</text>
<line x1="450" y1="56.32" x2="452" y2="56.32" stroke="#111" stroke-width="0.9"/>
<text x="449.7" y="58.34" font-size="5.6" font-weight="bold" text-anchor="end" textLength="5.9" lengthAdjust="spacingAndGlyphs">75</text>
<line x1="450" y1="48.76" x2="452" y2="48.76" stroke="#111" stroke-width="0.9"/>
<text x="449.7" y="50.78" font-size="5.6" font-weight="bold" text-anchor="end" textLength="8.85" lengthAdjust="spacingAndGlyphs">100</text>
<line x1="450" y1="41.2" x2="452" y2="41.2" stroke="#111" stroke-width="0.9"/>
<text x="449.7" y="43.22" font-size="5.6" font-weight="bold" text-anchor="end" textLength="8.85" lengthAdjust="spacingAndGlyphs">125</text>
<line x1="452" y1="79" x2="452" y2="81" stroke="#111" stroke-width="0.9"/>
<text x="452" y="85.98" font-size="5.8" font-weight="bold" text-anchor="middle">0</text>
<line x1="464" y1="79" x2="464" y2="81" stroke="#111" stroke-width="0.9"/>
<text x="464" y="85.98" font-size="5.8" font-weight="bold" text-anchor="middle">1</text>
<line x1="476" y1="79" x2="476" y2="81" stroke="#111" stroke-width="0.9"/>
<text x="476" y="85.98" font-size="5.8" font-weight="bold" text-anchor="middle">2</text>
<line x1="488" y1="79" x2="488" y2="81" stroke="#111" stroke-width="0.9"/>
<text x="488" y="85.98" font-size="5.8" font-weight="bold" text-anchor="middle">3</text>
<line x1="500" y1="79" x2="500" y2="81" stroke="#111" stroke-width="0.9"/>
<text x="500" y="85.98" font-size="5.8" font-weight="bold" text-anchor="middle">4</text>
<line x1="512" y1="79" x2="512" y2="81" stroke="#111" stroke-width="0.9"/>
<text x="512" y="85.98" font-size="5.8" font-weight="bold" text-anchor="middle">5</text>
<polyline points="464,48.46 476,46.34 488,65.39 500,57.53 512,48.76" fill="none" stroke="#111" stroke-width="1.2" stroke-linejoin="round"/>
<rect x="462.7" y="47.16" width="2.6" height="2.6" fill="#fff" stroke="#111" stroke-width="0.8"/>
<rect x="474.7" y="45.04" width="2.6" height="2.6" fill="#fff" stroke="#111" stroke-width="0.8"/>
<rect x="486.7" y="64.09" width="2.6" height="2.6" fill="#fff" stroke="#111" stroke-width="0.8"/>
<rect x="498.7" y="56.23" width="2.6" height="2.6" fill="#fff" stroke="#111" stroke-width="0.8"/>
<rect x="510.7" y="47.46" width="2.6" height="2.6" fill="#fff" stroke="#111" stroke-width="0.8"/>
<polyline points="464,48.46 476,46.64 488,51.78 500,50.27 512,50.88" fill="none" stroke="#111" stroke-width="1.5" stroke-linejoin="round"/>
<rect x="462.6" y="47.06" width="2.8" height="2.8" fill="#111"/>
<rect x="474.6" y="45.24" width="2.8" height="2.8" fill="#111"/>
<rect x="486.6" y="50.38" width="2.8" height="2.8" fill="#111"/>
<rect x="498.6" y="48.87" width="2.8" height="2.8" fill="#111"/>
<rect x="510.6" y="49.48" width="2.8" height="2.8" fill="#111"/>
<circle cx="488.7" cy="44.53" r="1.15" fill="#222"/>
<line x1="488" y1="49.06" x2="488" y2="54.51" stroke="#111" stroke-width="0.7"/>
<line x1="486.7" y1="49.06" x2="489.3" y2="49.06" stroke="#111" stroke-width="0.7"/>
<line x1="486.7" y1="54.51" x2="489.3" y2="54.51" stroke="#111" stroke-width="0.7"/>
<line x1="500" y1="55.41" x2="500" y2="59.65" stroke="#111" stroke-width="0.7"/>
<line x1="498.7" y1="55.41" x2="501.3" y2="55.41" stroke="#111" stroke-width="0.7"/>
<line x1="498.7" y1="59.65" x2="501.3" y2="59.65" stroke="#111" stroke-width="0.7"/>
<line x1="512" y1="46.64" x2="512" y2="53.3" stroke="#111" stroke-width="0.7"/>
<line x1="510.7" y1="46.64" x2="513.3" y2="46.64" stroke="#111" stroke-width="0.7"/>
<line x1="510.7" y1="53.3" x2="513.3" y2="53.3" stroke="#111" stroke-width="0.7"/>
<text x="453.4" y="27.36" font-size="6" font-weight="bold" textLength="33.2" lengthAdjust="spacingAndGlyphs">IVIG + JON3</text>
<text x="453.4" y="33.96" font-size="6" font-weight="bold" textLength="33.2" lengthAdjust="spacingAndGlyphs">HSA + JON3</text>
<rect x="489.5" y="23.7" width="3" height="3" fill="#111"/>
<rect x="489.6" y="29.4" width="2.8" height="2.6" fill="#fff" stroke="#111" stroke-width="0.8"/>
<line x1="287.3" y1="117.2" x2="287.3" y2="160.1" stroke="#111" stroke-width="1.3"/>
<line x1="286.7" y1="159.5" x2="351.2" y2="159.5" stroke="#111" stroke-width="1.3"/>
<line x1="285.3" y1="159.5" x2="287.3" y2="159.5" stroke="#111" stroke-width="0.9"/>
<text x="285" y="161.52" font-size="5.6" font-weight="bold" text-anchor="end" textLength="2.95" lengthAdjust="spacingAndGlyphs">0</text>
<line x1="285.3" y1="151.94" x2="287.3" y2="151.94" stroke="#111" stroke-width="0.9"/>
<text x="285" y="153.96" font-size="5.6" font-weight="bold" text-anchor="end" textLength="5.9" lengthAdjust="spacingAndGlyphs">25</text>
<line x1="285.3" y1="144.38" x2="287.3" y2="144.38" stroke="#111" stroke-width="0.9"/>
<text x="285" y="146.4" font-size="5.6" font-weight="bold" text-anchor="end" textLength="5.9" lengthAdjust="spacingAndGlyphs">50</text>
<line x1="285.3" y1="136.82" x2="287.3" y2="136.82" stroke="#111" stroke-width="0.9"/>
<text x="285" y="138.84" font-size="5.6" font-weight="bold" text-anchor="end" textLength="5.9" lengthAdjust="spacingAndGlyphs">75</text>
<line x1="285.3" y1="129.26" x2="287.3" y2="129.26" stroke="#111" stroke-width="0.9"/>
<text x="285" y="131.28" font-size="5.6" font-weight="bold" text-anchor="end" textLength="8.85" lengthAdjust="spacingAndGlyphs">100</text>
<line x1="285.3" y1="121.7" x2="287.3" y2="121.7" stroke="#111" stroke-width="0.9"/>
<text x="285" y="123.72" font-size="5.6" font-weight="bold" text-anchor="end" textLength="8.85" lengthAdjust="spacingAndGlyphs">125</text>
<line x1="287.3" y1="159.5" x2="287.3" y2="161.5" stroke="#111" stroke-width="0.9"/>
<text x="287.3" y="166.48" font-size="5.8" font-weight="bold" text-anchor="middle">0</text>
<line x1="299.3" y1="159.5" x2="299.3" y2="161.5" stroke="#111" stroke-width="0.9"/>
<text x="299.3" y="166.48" font-size="5.8" font-weight="bold" text-anchor="middle">1</text>
<line x1="311.3" y1="159.5" x2="311.3" y2="161.5" stroke="#111" stroke-width="0.9"/>
<text x="311.3" y="166.48" font-size="5.8" font-weight="bold" text-anchor="middle">2</text>
<line x1="323.3" y1="159.5" x2="323.3" y2="161.5" stroke="#111" stroke-width="0.9"/>
<text x="323.3" y="166.48" font-size="5.8" font-weight="bold" text-anchor="middle">3</text>
<line x1="335.3" y1="159.5" x2="335.3" y2="161.5" stroke="#111" stroke-width="0.9"/>
<text x="335.3" y="166.48" font-size="5.8" font-weight="bold" text-anchor="middle">4</text>
<line x1="347.3" y1="159.5" x2="347.3" y2="161.5" stroke="#111" stroke-width="0.9"/>
<text x="347.3" y="166.48" font-size="5.8" font-weight="bold" text-anchor="middle">5</text>
<polyline points="299.3,129.26 311.3,132.28 323.3,151.34 335.3,147.1 347.3,146.8" fill="none" stroke="#111" stroke-width="1.2" stroke-linejoin="round"/>
<circle cx="299.3" cy="129.26" r="1.4" fill="#fff" stroke="#111" stroke-width="0.8"/>
<circle cx="311.3" cy="132.28" r="1.4" fill="#fff" stroke="#111" stroke-width="0.8"/>
<circle cx="323.3" cy="151.34" r="1.4" fill="#fff" stroke="#111" stroke-width="0.8"/>
<circle cx="335.3" cy="147.1" r="1.4" fill="#fff" stroke="#111" stroke-width="0.8"/>
<circle cx="347.3" cy="146.8" r="1.4" fill="#fff" stroke="#111" stroke-width="0.8"/>
<polyline points="299.3,129.26 311.3,131.98 323.3,151.03 335.3,146.19 347.3,144.08" fill="none" stroke="#111" stroke-width="1.5" stroke-linejoin="round"/>
<circle cx="299.3" cy="129.26" r="1.5" fill="#111"/>
<circle cx="311.3" cy="131.98" r="1.5" fill="#111"/>
<circle cx="323.3" cy="151.03" r="1.5" fill="#111"/>
<circle cx="335.3" cy="146.19" r="1.5" fill="#111"/>
<circle cx="347.3" cy="144.08" r="1.5" fill="#111"/>
<line x1="311.3" y1="129.86" x2="311.3" y2="135.91" stroke="#111" stroke-width="0.7"/>
<line x1="310" y1="129.86" x2="312.6" y2="129.86" stroke="#111" stroke-width="0.7"/>
<line x1="310" y1="135.91" x2="312.6" y2="135.91" stroke="#111" stroke-width="0.7"/>
<text x="288.7" y="107.86" font-size="6" font-weight="bold" textLength="33.2" lengthAdjust="spacingAndGlyphs">IVIG + p0p3</text>
<text x="288.7" y="114.46" font-size="6" font-weight="bold" textLength="33.2" lengthAdjust="spacingAndGlyphs">HSA + p0p3</text>
<circle cx="326.6" cy="105.9" r="2" fill="#111"/>
<circle cx="326.6" cy="111.9" r="1.8" fill="#fff" stroke="#111" stroke-width="0.9"/>
<line x1="369.5" y1="117.2" x2="369.5" y2="160.1" stroke="#111" stroke-width="1.3"/>
<line x1="368.9" y1="159.5" x2="433.4" y2="159.5" stroke="#111" stroke-width="1.3"/>
<line x1="367.5" y1="159.5" x2="369.5" y2="159.5" stroke="#111" stroke-width="0.9"/>
<text x="367.2" y="161.52" font-size="5.6" font-weight="bold" text-anchor="end" textLength="2.95" lengthAdjust="spacingAndGlyphs">0</text>
<line x1="367.5" y1="151.94" x2="369.5" y2="151.94" stroke="#111" stroke-width="0.9"/>
<text x="367.2" y="153.96" font-size="5.6" font-weight="bold" text-anchor="end" textLength="5.9" lengthAdjust="spacingAndGlyphs">25</text>
<line x1="367.5" y1="144.38" x2="369.5" y2="144.38" stroke="#111" stroke-width="0.9"/>
<text x="367.2" y="146.4" font-size="5.6" font-weight="bold" text-anchor="end" textLength="5.9" lengthAdjust="spacingAndGlyphs">50</text>
<line x1="367.5" y1="136.82" x2="369.5" y2="136.82" stroke="#111" stroke-width="0.9"/>
<text x="367.2" y="138.84" font-size="5.6" font-weight="bold" text-anchor="end" textLength="5.9" lengthAdjust="spacingAndGlyphs">75</text>
<line x1="367.5" y1="129.26" x2="369.5" y2="129.26" stroke="#111" stroke-width="0.9"/>
<text x="367.2" y="131.28" font-size="5.6" font-weight="bold" text-anchor="end" textLength="8.85" lengthAdjust="spacingAndGlyphs">100</text>
<line x1="367.5" y1="121.7" x2="369.5" y2="121.7" stroke="#111" stroke-width="0.9"/>
<text x="367.2" y="123.72" font-size="5.6" font-weight="bold" text-anchor="end" textLength="8.85" lengthAdjust="spacingAndGlyphs">125</text>
<line x1="369.5" y1="159.5" x2="369.5" y2="161.5" stroke="#111" stroke-width="0.9"/>
<text x="369.5" y="166.48" font-size="5.8" font-weight="bold" text-anchor="middle">0</text>
<line x1="381.5" y1="159.5" x2="381.5" y2="161.5" stroke="#111" stroke-width="0.9"/>
<text x="381.5" y="166.48" font-size="5.8" font-weight="bold" text-anchor="middle">1</text>
<line x1="393.5" y1="159.5" x2="393.5" y2="161.5" stroke="#111" stroke-width="0.9"/>
<text x="393.5" y="166.48" font-size="5.8" font-weight="bold" text-anchor="middle">2</text>
<line x1="405.5" y1="159.5" x2="405.5" y2="161.5" stroke="#111" stroke-width="0.9"/>
<text x="405.5" y="166.48" font-size="5.8" font-weight="bold" text-anchor="middle">3</text>
<line x1="417.5" y1="159.5" x2="417.5" y2="161.5" stroke="#111" stroke-width="0.9"/>
<text x="417.5" y="166.48" font-size="5.8" font-weight="bold" text-anchor="middle">4</text>
<line x1="429.5" y1="159.5" x2="429.5" y2="161.5" stroke="#111" stroke-width="0.9"/>
<text x="429.5" y="166.48" font-size="5.8" font-weight="bold" text-anchor="middle">5</text>
<polyline points="381.5,129.26 393.5,125.03 405.5,146.5 417.5,138.63 429.5,135.31" fill="none" stroke="#111" stroke-width="1.5" stroke-linejoin="round"/>
<circle cx="381.5" cy="129.26" r="1.4" fill="#fff" stroke="#111" stroke-width="0.8"/>
<circle cx="393.5" cy="125.03" r="1.4" fill="#fff" stroke="#111" stroke-width="0.8"/>
<circle cx="405.5" cy="146.5" r="1.4" fill="#fff" stroke="#111" stroke-width="0.8"/>
<circle cx="417.5" cy="138.63" r="1.4" fill="#fff" stroke="#111" stroke-width="0.8"/>
<circle cx="429.5" cy="135.31" r="1.4" fill="#fff" stroke="#111" stroke-width="0.8"/>
<polyline points="381.5,129.26 393.5,123.21 405.5,130.17 417.5,132.28 429.5,131.68" fill="none" stroke="#111" stroke-width="1.2" stroke-linejoin="round"/>
<circle cx="381.5" cy="129.26" r="1.5" fill="#111"/>
<circle cx="393.5" cy="123.21" r="1.5" fill="#111"/>
<circle cx="405.5" cy="130.17" r="1.5" fill="#111"/>
<circle cx="417.5" cy="132.28" r="1.5" fill="#111"/>
<circle cx="429.5" cy="131.68" r="1.5" fill="#111"/>
<circle cx="406.2" cy="122.3" r="1.15" fill="#222"/>
<circle cx="418.2" cy="124.72" r="1.15" fill="#222"/>
<line x1="393.5" y1="120.49" x2="393.5" y2="125.93" stroke="#111" stroke-width="0.7"/>
<line x1="392.2" y1="120.49" x2="394.8" y2="120.49" stroke="#111" stroke-width="0.7"/>
<line x1="392.2" y1="125.93" x2="394.8" y2="125.93" stroke="#111" stroke-width="0.7"/>
<line x1="405.5" y1="126.84" x2="405.5" y2="133.49" stroke="#111" stroke-width="0.7"/>
<line x1="404.2" y1="126.84" x2="406.8" y2="126.84" stroke="#111" stroke-width="0.7"/>
<line x1="404.2" y1="133.49" x2="406.8" y2="133.49" stroke="#111" stroke-width="0.7"/>
<line x1="417.5" y1="131.07" x2="417.5" y2="138.33" stroke="#111" stroke-width="0.7"/>
<line x1="416.2" y1="131.07" x2="418.8" y2="131.07" stroke="#111" stroke-width="0.7"/>
<line x1="416.2" y1="138.33" x2="418.8" y2="138.33" stroke="#111" stroke-width="0.7"/>
<line x1="405.5" y1="144.68" x2="405.5" y2="148.31" stroke="#111" stroke-width="0.7"/>
<line x1="404.2" y1="144.68" x2="406.8" y2="144.68" stroke="#111" stroke-width="0.7"/>
<line x1="404.2" y1="148.31" x2="406.8" y2="148.31" stroke="#111" stroke-width="0.7"/>
<text x="370.9" y="107.86" font-size="6" font-weight="bold" textLength="33.2" lengthAdjust="spacingAndGlyphs">IVIG + p0p4</text>
<text x="370.9" y="114.46" font-size="6" font-weight="bold" textLength="33.2" lengthAdjust="spacingAndGlyphs">HSA + p0p4</text>
<circle cx="408.8" cy="105.9" r="2" fill="#111"/>
<circle cx="408.8" cy="111.9" r="1.8" fill="#fff" stroke="#111" stroke-width="0.9"/>
<line x1="452" y1="117.2" x2="452" y2="160.1" stroke="#111" stroke-width="1.3"/>
<line x1="451.4" y1="159.5" x2="515.9" y2="159.5" stroke="#111" stroke-width="1.3"/>
<line x1="450" y1="159.5" x2="452" y2="159.5" stroke="#111" stroke-width="0.9"/>
<text x="449.7" y="161.52" font-size="5.6" font-weight="bold" text-anchor="end" textLength="2.95" lengthAdjust="spacingAndGlyphs">0</text>
<line x1="450" y1="151.94" x2="452" y2="151.94" stroke="#111" stroke-width="0.9"/>
<text x="449.7" y="153.96" font-size="5.6" font-weight="bold" text-anchor="end" textLength="5.9" lengthAdjust="spacingAndGlyphs">25</text>
<line x1="450" y1="144.38" x2="452" y2="144.38" stroke="#111" stroke-width="0.9"/>
<text x="449.7" y="146.4" font-size="5.6" font-weight="bold" text-anchor="end" textLength="5.9" lengthAdjust="spacingAndGlyphs">50</text>
<line x1="450" y1="136.82" x2="452" y2="136.82" stroke="#111" stroke-width="0.9"/>
<text x="449.7" y="138.84" font-size="5.6" font-weight="bold" text-anchor="end" textLength="5.9" lengthAdjust="spacingAndGlyphs">75</text>
<line x1="450" y1="129.26" x2="452" y2="129.26" stroke="#111" stroke-width="0.9"/>
<text x="449.7" y="131.28" font-size="5.6" font-weight="bold" text-anchor="end" textLength="8.85" lengthAdjust="spacingAndGlyphs">100</text>
<line x1="450" y1="121.7" x2="452" y2="121.7" stroke="#111" stroke-width="0.9"/>
<text x="449.7" y="123.72" font-size="5.6" font-weight="bold" text-anchor="end" textLength="8.85" lengthAdjust="spacingAndGlyphs">125</text>
<line x1="452" y1="159.5" x2="452" y2="161.5" stroke="#111" stroke-width="0.9"/>
<text x="452" y="166.48" font-size="5.8" font-weight="bold" text-anchor="middle">0</text>
<line x1="464" y1="159.5" x2="464" y2="161.5" stroke="#111" stroke-width="0.9"/>
<text x="464" y="166.48" font-size="5.8" font-weight="bold" text-anchor="middle">1</text>
<line x1="476" y1="159.5" x2="476" y2="161.5" stroke="#111" stroke-width="0.9"/>
<text x="476" y="166.48" font-size="5.8" font-weight="bold" text-anchor="middle">2</text>
<line x1="488" y1="159.5" x2="488" y2="161.5" stroke="#111" stroke-width="0.9"/>
<text x="488" y="166.48" font-size="5.8" font-weight="bold" text-anchor="middle">3</text>
<line x1="500" y1="159.5" x2="500" y2="161.5" stroke="#111" stroke-width="0.9"/>
<text x="500" y="166.48" font-size="5.8" font-weight="bold" text-anchor="middle">4</text>
<line x1="512" y1="159.5" x2="512" y2="161.5" stroke="#111" stroke-width="0.9"/>
<text x="512" y="166.48" font-size="5.8" font-weight="bold" text-anchor="middle">5</text>
<polyline points="464,129.26 476,131.38 488,154.06 500,149.22 512,140.15" fill="none" stroke="#111" stroke-width="1.2" stroke-linejoin="round"/>
<circle cx="464" cy="129.26" r="1.4" fill="#fff" stroke="#111" stroke-width="0.8"/>
<circle cx="476" cy="131.38" r="1.4" fill="#fff" stroke="#111" stroke-width="0.8"/>
<circle cx="488" cy="154.06" r="1.4" fill="#fff" stroke="#111" stroke-width="0.8"/>
<circle cx="500" cy="149.22" r="1.4" fill="#fff" stroke="#111" stroke-width="0.8"/>
<circle cx="512" cy="140.15" r="1.4" fill="#fff" stroke="#111" stroke-width="0.8"/>
<polyline points="464,129.26 476,130.77 488,152.24 500,148.01 512,139.84" fill="none" stroke="#111" stroke-width="1.5" stroke-linejoin="round"/>
<circle cx="464" cy="129.26" r="1.5" fill="#111"/>
<circle cx="476" cy="130.77" r="1.5" fill="#111"/>
<circle cx="488" cy="152.24" r="1.5" fill="#111"/>
<circle cx="500" cy="148.01" r="1.5" fill="#111"/>
<circle cx="512" cy="139.84" r="1.5" fill="#111"/>
<line x1="512" y1="136.52" x2="512" y2="142.57" stroke="#111" stroke-width="0.7"/>
<line x1="510.7" y1="136.52" x2="513.3" y2="136.52" stroke="#111" stroke-width="0.7"/>
<line x1="510.7" y1="142.57" x2="513.3" y2="142.57" stroke="#111" stroke-width="0.7"/>
<text x="453.4" y="107.86" font-size="6" font-weight="bold" textLength="33.2" lengthAdjust="spacingAndGlyphs">IVIG + p0p5</text>
<text x="453.4" y="114.46" font-size="6" font-weight="bold" textLength="33.2" lengthAdjust="spacingAndGlyphs">HSA + p0p5</text>
<circle cx="491.3" cy="105.9" r="2" fill="#111"/>
<circle cx="491.3" cy="111.9" r="1.8" fill="#fff" stroke="#111" stroke-width="0.9"/>
<text x="1.5" y="199.6" font-size="12.5" font-weight="bold">C</text>
<text x="46.3" y="206.6" font-size="6.5" font-weight="bold" textLength="104" lengthAdjust="spacingAndGlyphs">BALB/c mice, Gamimune IVIG 4g/kg</text>
<rect x="40.4" y="216" width="7.4" height="5.9" fill="#111"/>
<text x="51.7" y="221.4" font-size="7.1" font-weight="bold" textLength="53.3" lengthAdjust="spacingAndGlyphs">Antibody + IVIG</text>
<rect x="40.9" y="227.3" width="6.5" height="5.3" fill="#fff" stroke="#111" stroke-width="1"/>
<text x="51.7" y="232.2" font-size="7.1" font-weight="bold" textLength="52.8" lengthAdjust="spacingAndGlyphs">Antibody + HSA</text>
<text x="9.6" y="333.3" font-size="7.9" font-weight="bold" textLength="128" lengthAdjust="spacingAndGlyphs" transform="rotate(-90 9.6 333.3)">Percent decrease in platelet count</text>
<text x="19.3" y="331.2" font-size="7.9" font-weight="bold" textLength="123.2" lengthAdjust="spacingAndGlyphs" transform="rotate(-90 19.3 331.2)">24 hours after antibody injection</text>
<line x1="43.7" y1="253.1" x2="43.7" y2="333.5" stroke="#111" stroke-width="1.6"/>
<line x1="43.7" y1="253.9" x2="163.5" y2="253.9" stroke="#111" stroke-width="1.6"/>
<line x1="43.7" y1="333" x2="163.5" y2="333" stroke="#111" stroke-width="1.6"/>
<line x1="41.5" y1="253.9" x2="43.7" y2="253.9" stroke="#111" stroke-width="1.1"/>
<text x="41.1" y="256" font-size="7.1" font-weight="bold" text-anchor="end">0</text>
<line x1="41.5" y1="269.72" x2="43.7" y2="269.72" stroke="#111" stroke-width="1.1"/>
<text x="41.1" y="271.82" font-size="7.1" font-weight="bold" text-anchor="end" textLength="10.65" lengthAdjust="spacingAndGlyphs">-25</text>
<line x1="41.5" y1="285.54" x2="43.7" y2="285.54" stroke="#111" stroke-width="1.1"/>
<text x="41.1" y="287.64" font-size="7.1" font-weight="bold" text-anchor="end" textLength="10.65" lengthAdjust="spacingAndGlyphs">-50</text>
<line x1="41.5" y1="301.36" x2="43.7" y2="301.36" stroke="#111" stroke-width="1.1"/>
<text x="41.1" y="303.46" font-size="7.1" font-weight="bold" text-anchor="end" textLength="10.65" lengthAdjust="spacingAndGlyphs">-75</text>
<line x1="41.5" y1="317.18" x2="43.7" y2="317.18" stroke="#111" stroke-width="1.1"/>
<text x="41.1" y="319.28" font-size="7.1" font-weight="bold" text-anchor="end" textLength="14.2" lengthAdjust="spacingAndGlyphs">-100</text>
<line x1="41.5" y1="333" x2="43.7" y2="333" stroke="#111" stroke-width="1.1"/>
<text x="41.1" y="335.1" font-size="7.1" font-weight="bold" text-anchor="end" textLength="14.2" lengthAdjust="spacingAndGlyphs">-125</text>
<rect x="45.7" y="253.9" width="7.2" height="45.56" fill="#111"/>
<rect x="53.8" y="254.4" width="5.8" height="58.35" fill="#fff" stroke="#111" stroke-width="0.9"/>
<line x1="49.3" y1="299.46" x2="49.3" y2="301.23" stroke="#111" stroke-width="0.8"/>
<line x1="47.5" y1="301.23" x2="51.1" y2="301.23" stroke="#111" stroke-width="0.8"/>
<line x1="56.7" y1="312.75" x2="56.7" y2="314.52" stroke="#111" stroke-width="0.8"/>
<line x1="54.9" y1="314.52" x2="58.5" y2="314.52" stroke="#111" stroke-width="0.8"/>
<circle cx="48.7" cy="310" r="1.4" fill="#222"/>
<text x="52.3" y="247.6" font-size="5.6" font-weight="bold" text-anchor="middle" textLength="13.4" lengthAdjust="spacingAndGlyphs">JON1</text>
<rect x="65.8" y="253.9" width="7.2" height="12.66" fill="#111"/>
<rect x="73.9" y="254.4" width="5.8" height="41.26" fill="#fff" stroke="#111" stroke-width="0.9"/>
<line x1="69.4" y1="266.56" x2="69.4" y2="268.33" stroke="#111" stroke-width="0.8"/>
<line x1="67.6" y1="268.33" x2="71.2" y2="268.33" stroke="#111" stroke-width="0.8"/>
<line x1="76.8" y1="295.66" x2="76.8" y2="297.44" stroke="#111" stroke-width="0.8"/>
<line x1="75" y1="297.44" x2="78.6" y2="297.44" stroke="#111" stroke-width="0.8"/>
<circle cx="69.2" cy="275.6" r="1.4" fill="#222"/>
<text x="72.7" y="247.6" font-size="5.6" font-weight="bold" text-anchor="middle" textLength="13.8" lengthAdjust="spacingAndGlyphs">JON2</text>
<rect x="86" y="253.9" width="7.2" height="7.59" fill="#111"/>
<rect x="94.1" y="254.4" width="5.8" height="33.67" fill="#fff" stroke="#111" stroke-width="0.9"/>
<line x1="89.6" y1="261.49" x2="89.6" y2="263.27" stroke="#111" stroke-width="0.8"/>
<line x1="87.8" y1="263.27" x2="91.4" y2="263.27" stroke="#111" stroke-width="0.8"/>
<line x1="97" y1="288.07" x2="97" y2="289.84" stroke="#111" stroke-width="0.8"/>
<line x1="95.2" y1="289.84" x2="98.8" y2="289.84" stroke="#111" stroke-width="0.8"/>
<circle cx="89.8" cy="270.8" r="1.4" fill="#222"/>
<text x="92.4" y="247.6" font-size="5.6" font-weight="bold" text-anchor="middle" textLength="14" lengthAdjust="spacingAndGlyphs">JON3</text>
<rect x="106.7" y="253.9" width="7.2" height="44.3" fill="#111"/>
<rect x="114.8" y="254.4" width="5.8" height="43.8" fill="#fff" stroke="#111" stroke-width="0.9"/>
<line x1="110.3" y1="298.2" x2="110.3" y2="299.97" stroke="#111" stroke-width="0.8"/>
<line x1="108.5" y1="299.97" x2="112.1" y2="299.97" stroke="#111" stroke-width="0.8"/>
<line x1="117.7" y1="298.2" x2="117.7" y2="299.97" stroke="#111" stroke-width="0.8"/>
<line x1="115.9" y1="299.97" x2="119.5" y2="299.97" stroke="#111" stroke-width="0.8"/>
<text x="117.7" y="247.6" font-size="5.6" font-weight="bold" text-anchor="middle" textLength="13.4" lengthAdjust="spacingAndGlyphs">p0p3</text>
<rect x="126.4" y="253.9" width="7.2" height="18.03" fill="#111"/>
<rect x="134.5" y="254.4" width="5.8" height="43.8" fill="#fff" stroke="#111" stroke-width="0.9"/>
<line x1="130" y1="271.93" x2="130" y2="273.71" stroke="#111" stroke-width="0.8"/>
<line x1="128.2" y1="273.71" x2="131.8" y2="273.71" stroke="#111" stroke-width="0.8"/>
<line x1="137.4" y1="298.2" x2="137.4" y2="299.97" stroke="#111" stroke-width="0.8"/>
<line x1="135.6" y1="299.97" x2="139.2" y2="299.97" stroke="#111" stroke-width="0.8"/>
<circle cx="129.6" cy="280.4" r="1.4" fill="#222"/>
<text x="137" y="247.6" font-size="5.6" font-weight="bold" text-anchor="middle" textLength="13.4" lengthAdjust="spacingAndGlyphs">p0p4</text>
<rect x="147.2" y="253.9" width="7.2" height="45.56" fill="#111"/>
<rect x="155.3" y="254.4" width="5.8" height="47.59" fill="#fff" stroke="#111" stroke-width="0.9"/>
<line x1="150.8" y1="299.46" x2="150.8" y2="301.23" stroke="#111" stroke-width="0.8"/>
<line x1="149" y1="301.23" x2="152.6" y2="301.23" stroke="#111" stroke-width="0.8"/>
<line x1="158.2" y1="301.99" x2="158.2" y2="303.76" stroke="#111" stroke-width="0.8"/>
<line x1="156.4" y1="303.76" x2="160" y2="303.76" stroke="#111" stroke-width="0.8"/>
<text x="155.9" y="247.6" font-size="5.6" font-weight="bold" text-anchor="middle" textLength="13.4" lengthAdjust="spacingAndGlyphs">p0p5</text>
<text x="47.6" y="325.2" font-size="5.7" fill="#444" textLength="21.1" lengthAdjust="spacingAndGlyphs"><tspan font-style="italic">P</tspan> = .010</text>
<text x="66.8" y="308" font-size="5.7" fill="#444" textLength="21" lengthAdjust="spacingAndGlyphs"><tspan font-style="italic">P</tspan> &lt; .001</text>
<text x="84.6" y="325.2" font-size="5.7" fill="#444" textLength="20.4" lengthAdjust="spacingAndGlyphs"><tspan font-style="italic">P</tspan> &lt; .001</text>
<text x="124" y="325.2" font-size="5.7" fill="#444" textLength="20" lengthAdjust="spacingAndGlyphs"><tspan font-style="italic">P</tspan> &lt; .001</text>
<text x="181.5" y="200.4" font-size="12.5" font-weight="bold">D</text>
<text x="188.7" y="320" font-size="6.5" font-weight="bold" textLength="95" lengthAdjust="spacingAndGlyphs" transform="rotate(-90 188.7 320)">Percent of initial platelet count</text>
<line x1="206.9" y1="247.8" x2="206.9" y2="304.5" stroke="#111" stroke-width="1.5"/>
<line x1="206.2" y1="303.8" x2="287.7" y2="303.8" stroke="#111" stroke-width="1.5"/>
<line x1="204.7" y1="300.72" x2="206.9" y2="300.72" stroke="#111" stroke-width="1.1"/>
<text x="204.5" y="302.72" font-size="7.4" font-weight="bold" text-anchor="end" textLength="7.9" lengthAdjust="spacingAndGlyphs">20</text>
<line x1="204.7" y1="287.74" x2="206.9" y2="287.74" stroke="#111" stroke-width="1.1"/>
<text x="204.5" y="289.74" font-size="7.4" font-weight="bold" text-anchor="end" textLength="7.9" lengthAdjust="spacingAndGlyphs">40</text>
<line x1="204.7" y1="274.76" x2="206.9" y2="274.76" stroke="#111" stroke-width="1.1"/>
<text x="204.5" y="276.76" font-size="7.4" font-weight="bold" text-anchor="end" textLength="7.9" lengthAdjust="spacingAndGlyphs">60</text>
<line x1="204.7" y1="261.78" x2="206.9" y2="261.78" stroke="#111" stroke-width="1.1"/>
<text x="204.5" y="263.78" font-size="7.4" font-weight="bold" text-anchor="end" textLength="7.9" lengthAdjust="spacingAndGlyphs">80</text>
<line x1="204.7" y1="248.8" x2="206.9" y2="248.8" stroke="#111" stroke-width="1.1"/>
<text x="204.5" y="250.8" font-size="7.4" font-weight="bold" text-anchor="end" textLength="11.85" lengthAdjust="spacingAndGlyphs">100</text>
<line x1="206.9" y1="303.8" x2="206.9" y2="306" stroke="#111" stroke-width="1.1"/>
<text x="206.9" y="313" font-size="7.2" font-weight="bold" text-anchor="middle">0</text>
<line x1="225.1" y1="303.8" x2="225.1" y2="306" stroke="#111" stroke-width="1.1"/>
<text x="225.1" y="313" font-size="7.2" font-weight="bold" text-anchor="middle">1</text>
<line x1="243.3" y1="303.8" x2="243.3" y2="306" stroke="#111" stroke-width="1.1"/>
<text x="243.3" y="313" font-size="7.2" font-weight="bold" text-anchor="middle">2</text>
<line x1="261.5" y1="303.8" x2="261.5" y2="306" stroke="#111" stroke-width="1.1"/>
<text x="261.5" y="313" font-size="7.2" font-weight="bold" text-anchor="middle">3</text>
<line x1="279.7" y1="303.8" x2="279.7" y2="306" stroke="#111" stroke-width="1.1"/>
<text x="279.7" y="313" font-size="7.2" font-weight="bold" text-anchor="middle">4</text>
<polyline points="206.9,248.8 225.1,268.92 243.3,259.83 279.7,255.94" fill="none" stroke="#111" stroke-width="1.6" stroke-linejoin="round"/>
<polyline points="206.9,248.8 225.1,288.39 243.3,286.44 279.7,288.39" fill="none" stroke="#111" stroke-width="1.6" stroke-linejoin="round"/>
<circle cx="206.9" cy="248.8" r="1.7" fill="#111"/>
<circle cx="225.1" cy="268.92" r="1.7" fill="#111"/>
<line x1="225.1" y1="267.62" x2="225.1" y2="270.22" stroke="#111" stroke-width="0.9"/>
<line x1="223.5" y1="267.62" x2="226.7" y2="267.62" stroke="#111" stroke-width="0.9"/>
<line x1="223.5" y1="270.22" x2="226.7" y2="270.22" stroke="#111" stroke-width="0.9"/>
<circle cx="243.3" cy="259.83" r="1.7" fill="#111"/>
<line x1="243.3" y1="256.59" x2="243.3" y2="263.08" stroke="#111" stroke-width="0.9"/>
<line x1="241.7" y1="256.59" x2="244.9" y2="256.59" stroke="#111" stroke-width="0.9"/>
<line x1="241.7" y1="263.08" x2="244.9" y2="263.08" stroke="#111" stroke-width="0.9"/>
<circle cx="279.7" cy="255.94" r="1.7" fill="#111"/>
<line x1="279.7" y1="253.34" x2="279.7" y2="258.54" stroke="#111" stroke-width="0.9"/>
<line x1="278.1" y1="253.34" x2="281.3" y2="253.34" stroke="#111" stroke-width="0.9"/>
<line x1="278.1" y1="258.54" x2="281.3" y2="258.54" stroke="#111" stroke-width="0.9"/>
<rect x="205.3" y="247.2" width="3.2" height="3.2" fill="#fff" stroke="#111" stroke-width="0.9"/>
<rect x="223.5" y="286.79" width="3.2" height="3.2" fill="#fff" stroke="#111" stroke-width="0.9"/>
<line x1="225.1" y1="286.44" x2="225.1" y2="290.34" stroke="#111" stroke-width="0.9"/>
<line x1="223.5" y1="286.44" x2="226.7" y2="286.44" stroke="#111" stroke-width="0.9"/>
<line x1="223.5" y1="290.34" x2="226.7" y2="290.34" stroke="#111" stroke-width="0.9"/>
<rect x="241.7" y="284.84" width="3.2" height="3.2" fill="#fff" stroke="#111" stroke-width="0.9"/>
<line x1="243.3" y1="285.47" x2="243.3" y2="287.42" stroke="#111" stroke-width="0.9"/>
<line x1="241.7" y1="285.47" x2="244.9" y2="285.47" stroke="#111" stroke-width="0.9"/>
<line x1="241.7" y1="287.42" x2="244.9" y2="287.42" stroke="#111" stroke-width="0.9"/>
<rect x="278.1" y="286.79" width="3.2" height="3.2" fill="#fff" stroke="#111" stroke-width="0.9"/>
<line x1="279.7" y1="286.44" x2="279.7" y2="290.34" stroke="#111" stroke-width="0.9"/>
<line x1="278.1" y1="286.44" x2="281.3" y2="286.44" stroke="#111" stroke-width="0.9"/>
<line x1="278.1" y1="290.34" x2="281.3" y2="290.34" stroke="#111" stroke-width="0.9"/>
<rect x="205.2" y="247.1" width="3.4" height="3.4" fill="#111"/>
<line x1="213.9" y1="284.6" x2="215.5" y2="291.7" stroke="#111" stroke-width="1" stroke-dasharray="1.1,1.1"/>
<path d="M213,281.2 l-1.1,3.9 l2.8,-0.4 z" fill="#111"/>
<text x="211.1" y="298.6" font-size="5.1" font-weight="bold" textLength="12.9" lengthAdjust="spacingAndGlyphs">JON3</text>
<line x1="347.5" y1="247.8" x2="347.5" y2="304.5" stroke="#111" stroke-width="1.5"/>
<line x1="346.8" y1="303.8" x2="429.9" y2="303.8" stroke="#111" stroke-width="1.5"/>
<line x1="345.3" y1="300.72" x2="347.5" y2="300.72" stroke="#111" stroke-width="1.1"/>
<text x="345.1" y="302.72" font-size="7.4" font-weight="bold" text-anchor="end" textLength="7.9" lengthAdjust="spacingAndGlyphs">20</text>
<line x1="345.3" y1="287.74" x2="347.5" y2="287.74" stroke="#111" stroke-width="1.1"/>
<text x="345.1" y="289.74" font-size="7.4" font-weight="bold" text-anchor="end" textLength="7.9" lengthAdjust="spacingAndGlyphs">40</text>
<line x1="345.3" y1="274.76" x2="347.5" y2="274.76" stroke="#111" stroke-width="1.1"/>
<text x="345.1" y="276.76" font-size="7.4" font-weight="bold" text-anchor="end" textLength="7.9" lengthAdjust="spacingAndGlyphs">60</text>
<line x1="345.3" y1="261.78" x2="347.5" y2="261.78" stroke="#111" stroke-width="1.1"/>
<text x="345.1" y="263.78" font-size="7.4" font-weight="bold" text-anchor="end" textLength="7.9" lengthAdjust="spacingAndGlyphs">80</text>
<line x1="345.3" y1="248.8" x2="347.5" y2="248.8" stroke="#111" stroke-width="1.1"/>
<text x="345.1" y="250.8" font-size="7.4" font-weight="bold" text-anchor="end" textLength="11.85" lengthAdjust="spacingAndGlyphs">100</text>
<line x1="347.5" y1="303.8" x2="347.5" y2="306" stroke="#111" stroke-width="1.1"/>
<text x="347.5" y="313" font-size="7.2" font-weight="bold" text-anchor="middle">0</text>
<line x1="366.1" y1="303.8" x2="366.1" y2="306" stroke="#111" stroke-width="1.1"/>
<text x="366.1" y="313" font-size="7.2" font-weight="bold" text-anchor="middle">1</text>
<line x1="384.7" y1="303.8" x2="384.7" y2="306" stroke="#111" stroke-width="1.1"/>
<text x="384.7" y="313" font-size="7.2" font-weight="bold" text-anchor="middle">2</text>
<line x1="403.3" y1="303.8" x2="403.3" y2="306" stroke="#111" stroke-width="1.1"/>
<text x="403.3" y="313" font-size="7.2" font-weight="bold" text-anchor="middle">3</text>
<line x1="421.9" y1="303.8" x2="421.9" y2="306" stroke="#111" stroke-width="1.1"/>
<text x="421.9" y="313" font-size="7.2" font-weight="bold" text-anchor="middle">4</text>
<polyline points="347.5,248.8 366.1,272.81 384.7,256.59 421.9,257.89" fill="none" stroke="#111" stroke-width="1.6" stroke-linejoin="round"/>
<polyline points="347.5,248.8 366.1,276.71 384.7,270.87 421.9,276.71" fill="none" stroke="#111" stroke-width="1.6" stroke-linejoin="round"/>
<circle cx="347.5" cy="248.8" r="1.7" fill="#111"/>
<circle cx="366.1" cy="272.81" r="1.7" fill="#111"/>
<line x1="366.1" y1="270.87" x2="366.1" y2="274.76" stroke="#111" stroke-width="0.9"/>
<line x1="364.5" y1="270.87" x2="367.7" y2="270.87" stroke="#111" stroke-width="0.9"/>
<line x1="364.5" y1="274.76" x2="367.7" y2="274.76" stroke="#111" stroke-width="0.9"/>
<circle cx="384.7" cy="256.59" r="1.7" fill="#111"/>
<line x1="384.7" y1="254.64" x2="384.7" y2="258.54" stroke="#111" stroke-width="0.9"/>
<line x1="383.1" y1="254.64" x2="386.3" y2="254.64" stroke="#111" stroke-width="0.9"/>
<line x1="383.1" y1="258.54" x2="386.3" y2="258.54" stroke="#111" stroke-width="0.9"/>
<circle cx="421.9" cy="257.89" r="1.7" fill="#111"/>
<line x1="421.9" y1="255.29" x2="421.9" y2="260.48" stroke="#111" stroke-width="0.9"/>
<line x1="420.3" y1="255.29" x2="423.5" y2="255.29" stroke="#111" stroke-width="0.9"/>
<line x1="420.3" y1="260.48" x2="423.5" y2="260.48" stroke="#111" stroke-width="0.9"/>
<rect x="345.9" y="247.2" width="3.2" height="3.2" fill="#fff" stroke="#111" stroke-width="0.9"/>
<rect x="364.5" y="275.11" width="3.2" height="3.2" fill="#fff" stroke="#111" stroke-width="0.9"/>
<line x1="366.1" y1="275.41" x2="366.1" y2="278" stroke="#111" stroke-width="0.9"/>
<line x1="364.5" y1="275.41" x2="367.7" y2="275.41" stroke="#111" stroke-width="0.9"/>
<line x1="364.5" y1="278" x2="367.7" y2="278" stroke="#111" stroke-width="0.9"/>
<rect x="383.1" y="269.27" width="3.2" height="3.2" fill="#fff" stroke="#111" stroke-width="0.9"/>
<line x1="384.7" y1="263.73" x2="384.7" y2="278" stroke="#111" stroke-width="0.9"/>
<line x1="383.1" y1="263.73" x2="386.3" y2="263.73" stroke="#111" stroke-width="0.9"/>
<line x1="383.1" y1="278" x2="386.3" y2="278" stroke="#111" stroke-width="0.9"/>
<rect x="420.3" y="275.11" width="3.2" height="3.2" fill="#fff" stroke="#111" stroke-width="0.9"/>
<line x1="421.9" y1="274.76" x2="421.9" y2="278.65" stroke="#111" stroke-width="0.9"/>
<line x1="420.3" y1="274.76" x2="423.5" y2="274.76" stroke="#111" stroke-width="0.9"/>
<line x1="420.3" y1="278.65" x2="423.5" y2="278.65" stroke="#111" stroke-width="0.9"/>
<rect x="345.8" y="247.1" width="3.4" height="3.4" fill="#111"/>
<line x1="354.5" y1="281.4" x2="356.1" y2="289.1" stroke="#111" stroke-width="1" stroke-dasharray="1.1,1.1"/>
<path d="M353.6,278 l-1.1,3.9 l2.8,-0.4 z" fill="#111"/>
<text x="353" y="296.7" font-size="5.1" font-weight="bold" textLength="12.9" lengthAdjust="spacingAndGlyphs">JON3</text>
<text x="248.2" y="208.7" font-size="7.6" font-weight="bold" text-anchor="middle" textLength="20" lengthAdjust="spacingAndGlyphs">Day 3</text>
<text x="388.6" y="208.4" font-size="7.4" font-weight="bold" text-anchor="middle" textLength="20.3" lengthAdjust="spacingAndGlyphs">Day 4</text>
<text x="248.2" y="329.4" font-size="7.8" font-weight="bold" text-anchor="middle" textLength="38.6" lengthAdjust="spacingAndGlyphs">IVIG (g/kg)</text>
<text x="388.6" y="327.3" font-size="7.8" font-weight="bold" text-anchor="middle" textLength="37.6" lengthAdjust="spacingAndGlyphs">IVIG (g/kg)</text>
<polyline points="224.2,233.4 224.2,229.7 238.3,229.7" fill="none" stroke="#333" stroke-width="0.9"/>
<polyline points="264.2,229.7 280.2,229.7 280.2,233.4" fill="none" stroke="#333" stroke-width="0.9"/>
<text x="241.4" y="231.8" font-size="5.7" fill="#444" textLength="18.6" lengthAdjust="spacingAndGlyphs"><tspan font-style="italic">P</tspan> &lt; .01</text>
<text x="224.2" y="244" font-size="5.7" fill="#444" textLength="18.3" lengthAdjust="spacingAndGlyphs"><tspan font-style="italic">P</tspan> &lt; .05</text>
<polyline points="224.8,250.3 224.8,246.7 243.9,246.7 243.9,250.3" fill="none" stroke="#333" stroke-width="0.9" stroke-linejoin="round"/>
<polyline points="365,233.4 365,229.7 380.5,229.7" fill="none" stroke="#333" stroke-width="0.9"/>
<polyline points="406.5,229.7 420.5,229.7 420.5,233.4" fill="none" stroke="#333" stroke-width="0.9"/>
<text x="384.7" y="231.8" font-size="5.7" fill="#444" textLength="18" lengthAdjust="spacingAndGlyphs"><tspan font-style="italic">P</tspan> &lt; .05</text>
<text x="365" y="244" font-size="5.7" fill="#444" textLength="18" lengthAdjust="spacingAndGlyphs"><tspan font-style="italic">P</tspan> &lt; .01</text>
<polyline points="365.5,250.5 365.5,246.5 384.2,246.5 384.2,250.5" fill="none" stroke="#333" stroke-width="0.9" stroke-linejoin="round"/>
<line x1="289" y1="256.9" x2="297" y2="256.9" stroke="#111" stroke-width="1.4"/>
<circle cx="293" cy="256.9" r="1.7" fill="#111"/>
<text x="297.6" y="258.7" font-size="5" font-weight="bold" textLength="30.1" lengthAdjust="spacingAndGlyphs">IVIG + JON3</text>
<line x1="289" y1="288" x2="297" y2="288" stroke="#111" stroke-width="1.4"/>
<rect x="291.4" y="286.4" width="3.2" height="3.2" fill="#888" stroke="#111" stroke-width="0.9"/>
<text x="298.4" y="289.8" font-size="5" font-weight="bold" textLength="29.3" lengthAdjust="spacingAndGlyphs">HSA + JON3</text>
</g>
</svg>
</body></html>
